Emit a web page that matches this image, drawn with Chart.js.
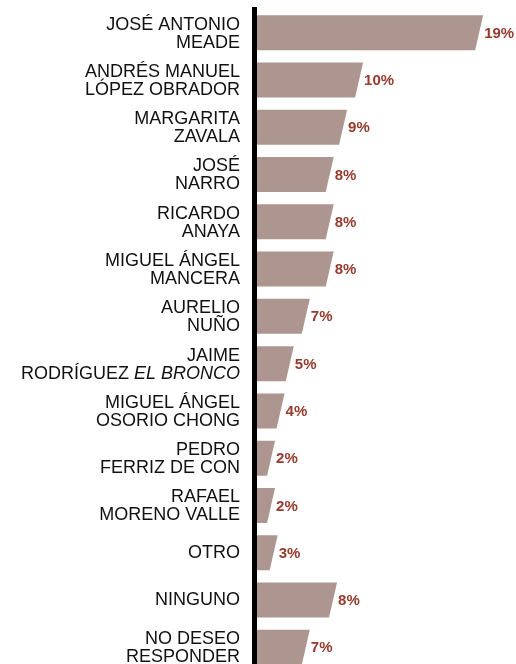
<!DOCTYPE html>
<html>
<head>
<meta charset="utf-8">
<script src="https://cdn.jsdelivr.net/npm/chart.js@4"></script>
<style>
  html, body { margin: 0; padding: 0; background: #fff; overflow: hidden; }
  #wrap { width: 516px; height: 671px; position: relative; }
</style>
</head>
<body>
<div id="wrap"><canvas id="chart"></canvas></div>
<script>
// Categories (each entry is the lines of the label)
const categories = [
    ['JOSÉ ANTONIO', 'MEADE'],
    ['ANDRÉS MANUEL', 'LÓPEZ OBRADOR'],
    ['MARGARITA', 'ZAVALA'],
    ['JOSÉ', 'NARRO'],
    ['RICARDO', 'ANAYA'],
    ['MIGUEL ÁNGEL', 'MANCERA'],
    ['AURELIO', 'NUÑO'],
    ['JAIME', 'RODRÍGUEZ EL BRONCO'],
    ['MIGUEL ÁNGEL', 'OSORIO CHONG'],
    ['PEDRO', 'FERRIZ DE CON'],
    ['RAFAEL', 'MORENO VALLE'],
    ['OTRO'],
    ['NINGUNO'],
    ['NO DESEO', 'RESPONDER']
];

// Printed percentages next to each bar
const shares = [19, 10, 9, 8, 8, 8, 7, 5, 4, 2, 2, 3, 8, 7];

// Bar lengths as drawn in the picture (same units, 19% bar = 19)
const barValues = [19.0, 8.87, 7.52, 6.39, 6.39, 6.39, 4.37, 3.02, 2.24, 1.44, 1.44, 1.66, 6.67, 4.37];

// Phrase set in italics inside a label
const italicPhrase = 'EL BRONCO';

const barColor = '#ad9690';
const valueColor = '#963a2c';
const labelFont = '"Liberation Sans", Arial, sans-serif';
const slant = 4;

// Draw bars with a slanted right end, plus value labels
const slantBars = {
    id: 'slantBars',
    afterDatasetsDraw(chart) {
        const ctx = chart.ctx;
        const meta = chart.getDatasetMeta(0);
        ctx.save();
        meta.data.forEach((bar, i) => {
            const { x, y, base, height } = bar.getProps(['x', 'y', 'base', 'height'], true);
            const top = y - height / 2;
            const bottom = y + height / 2;
            ctx.fillStyle = barColor;
            ctx.beginPath();
            ctx.moveTo(base, top);
            ctx.lineTo(x + slant, top);
            ctx.lineTo(x - slant, bottom);
            ctx.lineTo(base, bottom);
            ctx.closePath();
            ctx.fill();

            ctx.fillStyle = valueColor;
            ctx.font = 'bold 15px ' + labelFont;
            ctx.textAlign = 'left';
            ctx.textBaseline = 'middle';
            ctx.fillText(shares[i] + '%', x + 5, y + 1);
        });
        ctx.restore();
    }
};

// Category labels on the left, right aligned, with italic part support
const categoryLabels = {
    id: 'categoryLabels',
    afterDraw(chart) {
        const ctx = chart.ctx;
        const yScale = chart.scales.y;
        const right = chart.chartArea.left - 14;
        const normal = '18px ' + labelFont;
        const italic = 'italic 18px ' + labelFont;
        ctx.save();
        ctx.fillStyle = '#111';
        ctx.textBaseline = 'middle';
        ctx.textAlign = 'left';
        categories.forEach((lines, i) => {
            const cy = yScale.getPixelForTick(i);
            const offsets = lines.length === 1 ? [0] : [-8, 10];
            lines.forEach((line, j) => {
                const ly = cy + offsets[j];
                const k = line.indexOf(italicPhrase);
                if (k >= 0) {
                    const head = line.slice(0, k);
                    ctx.font = normal;
                    const wHead = ctx.measureText(head).width;
                    ctx.font = italic;
                    const wTail = ctx.measureText(italicPhrase).width;
                    const start = right - wHead - wTail;
                    ctx.font = normal;
                    ctx.fillText(head, start, ly);
                    ctx.font = italic;
                    ctx.fillText(italicPhrase, start + wHead, ly);
                } else {
                    ctx.font = normal;
                    const w = ctx.measureText(line).width;
                    ctx.fillText(line, right - w, ly);
                }
            });
        });
        ctx.restore();
    }
};

new Chart(document.getElementById('chart'), {
    type: 'bar',
    data: {
        labels: categories.map(l => l.join(' ')),
        datasets: [{
            data: barValues,
            backgroundColor: 'rgba(0,0,0,0)',
            borderWidth: 0,
            barThickness: 35
        }]
    },
    options: {
        indexAxis: 'y',
        responsive: true,
        maintainAspectRatio: false,
        animation: false,
        layout: { padding: { top: 9, right: 25, bottom: 0, left: 0 } },
        plugins: {
            legend: { display: false },
            tooltip: { enabled: false }
        },
        scales: {
            x: { display: false, min: 0, max: 20 },
            y: {
                display: true,
                grid: { display: false },
                ticks: { display: false },
                border: { display: true, color: '#000', width: 5, z: 1 },
                afterFit(scale) { scale.width = 254; }
            }
        }
    },
    plugins: [slantBars, categoryLabels]
});
</script>
</body>
</html>
